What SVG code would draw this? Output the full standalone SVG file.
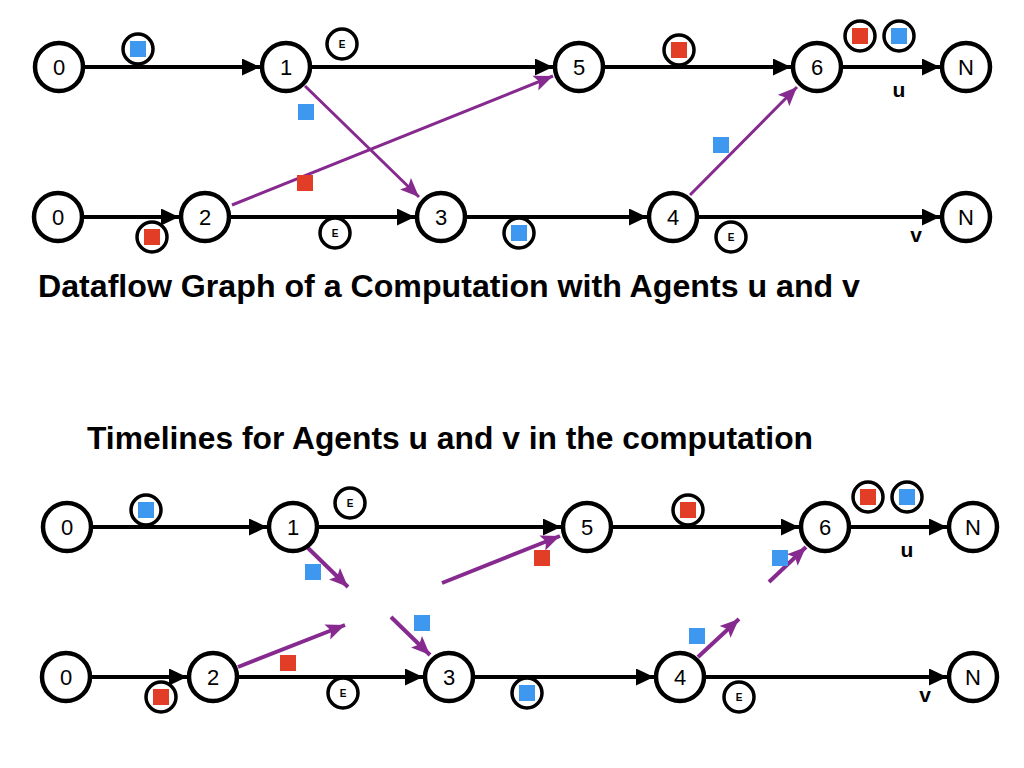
<svg xmlns="http://www.w3.org/2000/svg" width="1024" height="768" viewBox="0 0 1024 768">
<defs>
<style>
.node circle{fill:#fff;stroke:#000;stroke-width:4.5}
.node text{font-family:"Liberation Sans",Arial,sans-serif;font-size:22px;text-anchor:middle;fill:#000}
.edge{stroke:#000;stroke-width:4;fill:none;marker-end:url(#ah)}
.msg{stroke:#862a8f;stroke-width:3;fill:none;marker-end:url(#ap)}
.msg2{stroke:#862a8f;stroke-width:4;fill:none;marker-end:url(#ap)}
.mk circle{fill:#fff;stroke:#000;stroke-width:3.5}
.mk text{font-family:"Liberation Sans",Arial,sans-serif;font-size:10px;font-weight:bold;text-anchor:middle}
.b{fill:#3f98f0}
.r{fill:#e23e27}
.title{font-family:"Liberation Sans",Arial,sans-serif;font-size:31px;font-weight:bold}
.lbl{font-family:"Liberation Sans",Arial,sans-serif;font-size:21px;font-weight:bold;text-anchor:middle}
</style>
<marker id="ah" markerUnits="userSpaceOnUse" markerWidth="19" markerHeight="17" refX="18" refY="8.5" orient="auto" viewBox="0 0 19 17"><path d="M0,0 L18,8.5 L0,17 z" fill="#000"/></marker>
<marker id="ap" markerUnits="userSpaceOnUse" markerWidth="20" markerHeight="17" refX="19" refY="8.5" orient="auto" viewBox="0 0 20 17"><path d="M0,0.5 L19,8.5 L0,16.5 L4,8.5 z" fill="#862a8f"/></marker>
</defs>
<rect width="1024" height="768" fill="#fff"/>

<g id="connectors">
<line class="edge" x1="85" y1="67" x2="260" y2="67"/>
<line class="edge" x1="312" y1="67" x2="553" y2="67"/>
<line class="edge" x1="605" y1="67" x2="791" y2="67"/>
<line class="edge" x1="843" y1="67" x2="940" y2="67"/>
<line class="edge" x1="84" y1="217" x2="179" y2="217"/>
<line class="edge" x1="231" y1="217" x2="415" y2="217"/>
<line class="edge" x1="467" y1="217" x2="647" y2="217"/>
<line class="edge" x1="699" y1="217" x2="940" y2="217"/>
<line class="msg" x1="305" y1="86" x2="419" y2="197"/>
<line class="msg" x1="232" y1="205" x2="553" y2="76"/>
<line class="msg" x1="690" y1="195" x2="797" y2="87"/>
<line class="edge" x1="93" y1="527" x2="267" y2="527"/>
<line class="edge" x1="319" y1="527" x2="561" y2="527"/>
<line class="edge" x1="613" y1="527" x2="799" y2="527"/>
<line class="edge" x1="851" y1="527" x2="947" y2="527"/>
<line class="edge" x1="92" y1="677" x2="187" y2="677"/>
<line class="edge" x1="239" y1="677" x2="423" y2="677"/>
<line class="edge" x1="475" y1="677" x2="654" y2="677"/>
<line class="edge" x1="706" y1="677" x2="947" y2="677"/>
<line class="msg2" x1="308" y1="548" x2="348" y2="587"/>
<line class="msg2" x1="238" y1="667" x2="345" y2="625"/>
<line class="msg2" x1="442" y1="583" x2="560" y2="536"/>
<line class="msg2" x1="391" y1="617" x2="430" y2="655"/>
<line class="msg2" x1="698" y1="657" x2="739" y2="619"/>
<line class="msg2" x1="769" y1="582" x2="806" y2="547"/>
</g>

<g id="top-u0" class="node"><circle cx="59" cy="67" r="24"/><text x="59" y="75">0</text></g>
<g id="top-u1" class="node"><circle cx="286" cy="67" r="24"/><text x="286" y="75">1</text></g>
<g id="top-u5" class="node"><circle cx="579" cy="67" r="24"/><text x="579" y="75">5</text></g>
<g id="top-u6" class="node"><circle cx="817" cy="67" r="24"/><text x="817" y="75">6</text></g>
<g id="top-uN" class="node"><circle cx="966" cy="67" r="24"/><text x="966" y="75">N</text></g>
<g id="top-v0" class="node"><circle cx="58" cy="217" r="24"/><text x="58" y="225">0</text></g>
<g id="top-v2" class="node"><circle cx="205" cy="217" r="24"/><text x="205" y="225">2</text></g>
<g id="top-v3" class="node"><circle cx="441" cy="217" r="24"/><text x="441" y="225">3</text></g>
<g id="top-v4" class="node"><circle cx="673" cy="217" r="24"/><text x="673" y="225">4</text></g>
<g id="top-vN" class="node"><circle cx="966" cy="217" r="24"/><text x="966" y="225">N</text></g>

<g id="top-markers">
<g class="mk"><circle cx="138" cy="49" r="15"/><rect class="b" x="130" y="41" width="16" height="16"/></g>
<g class="mk"><circle cx="342" cy="44" r="15"/><text x="342" y="48">E</text></g>
<g class="mk"><circle cx="679" cy="50" r="15"/><rect class="r" x="671" y="42" width="16" height="16"/></g>
<g class="mk"><circle cx="860" cy="36" r="15"/><rect class="r" x="852" y="28" width="16" height="16"/></g>
<g class="mk"><circle cx="899" cy="36" r="15"/><rect class="b" x="891" y="28" width="16" height="16"/></g>
<g class="mk"><circle cx="152" cy="237" r="15"/><rect class="r" x="144" y="229" width="16" height="16"/></g>
<g class="mk"><circle cx="335" cy="233" r="15"/><text x="335" y="237">E</text></g>
<g class="mk"><circle cx="519" cy="233" r="15"/><rect class="b" x="511" y="225" width="16" height="16"/></g>
<g class="mk"><circle cx="731" cy="237" r="15"/><text x="731" y="241">E</text></g>
<rect class="b" x="298" y="104" width="16" height="16"/>
<rect class="r" x="297" y="175" width="16" height="16"/>
<rect class="b" x="713" y="137" width="16" height="16"/>
<text class="lbl" x="899" y="97">u</text>
<text class="lbl" x="916" y="242">v</text>
</g>

<text class="title" x="38" y="297" textLength="822" lengthAdjust="spacingAndGlyphs">Dataflow Graph of a Computation with Agents u and v</text>
<text class="title" x="87" y="449" textLength="726" lengthAdjust="spacingAndGlyphs">Timelines for Agents u and v in the computation</text>

<g id="bot-u0" class="node"><circle cx="67" cy="527" r="24"/><text x="67" y="535">0</text></g>
<g id="bot-u1" class="node"><circle cx="293" cy="527" r="24"/><text x="293" y="535">1</text></g>
<g id="bot-u5" class="node"><circle cx="587" cy="527" r="24"/><text x="587" y="535">5</text></g>
<g id="bot-u6" class="node"><circle cx="825" cy="527" r="24"/><text x="825" y="535">6</text></g>
<g id="bot-uN" class="node"><circle cx="973" cy="527" r="24"/><text x="973" y="535">N</text></g>
<g id="bot-v0" class="node"><circle cx="66" cy="677" r="24"/><text x="66" y="685">0</text></g>
<g id="bot-v2" class="node"><circle cx="213" cy="677" r="24"/><text x="213" y="685">2</text></g>
<g id="bot-v3" class="node"><circle cx="449" cy="677" r="24"/><text x="449" y="685">3</text></g>
<g id="bot-v4" class="node"><circle cx="680" cy="677" r="24"/><text x="680" y="685">4</text></g>
<g id="bot-vN" class="node"><circle cx="973" cy="677" r="24"/><text x="973" y="685">N</text></g>

<g id="bot-markers">
<g class="mk"><circle cx="146" cy="510" r="15"/><rect class="b" x="138" y="502" width="16" height="16"/></g>
<g class="mk"><circle cx="350" cy="503" r="15"/><text x="350" y="507">E</text></g>
<g class="mk"><circle cx="688" cy="510" r="15"/><rect class="r" x="680" y="502" width="16" height="16"/></g>
<g class="mk"><circle cx="868" cy="497" r="15"/><rect class="r" x="860" y="489" width="16" height="16"/></g>
<g class="mk"><circle cx="907" cy="497" r="15"/><rect class="b" x="899" y="489" width="16" height="16"/></g>
<g class="mk"><circle cx="161" cy="697" r="15"/><rect class="r" x="153" y="689" width="16" height="16"/></g>
<g class="mk"><circle cx="343" cy="693" r="15"/><text x="343" y="697">E</text></g>
<g class="mk"><circle cx="527" cy="693" r="15"/><rect class="b" x="519" y="685" width="16" height="16"/></g>
<g class="mk"><circle cx="739" cy="697" r="15"/><text x="739" y="701">E</text></g>
<rect class="b" x="305" y="564" width="16" height="16"/>
<rect class="r" x="280" y="655" width="16" height="16"/>
<rect class="r" x="534" y="550" width="16" height="16"/>
<rect class="b" x="414" y="615" width="16" height="16"/>
<rect class="b" x="772" y="550" width="16" height="16"/>
<rect class="b" x="689" y="628" width="16" height="16"/>
<text class="lbl" x="907" y="557">u</text>
<text class="lbl" x="925" y="702">v</text>
</g>
</svg>
